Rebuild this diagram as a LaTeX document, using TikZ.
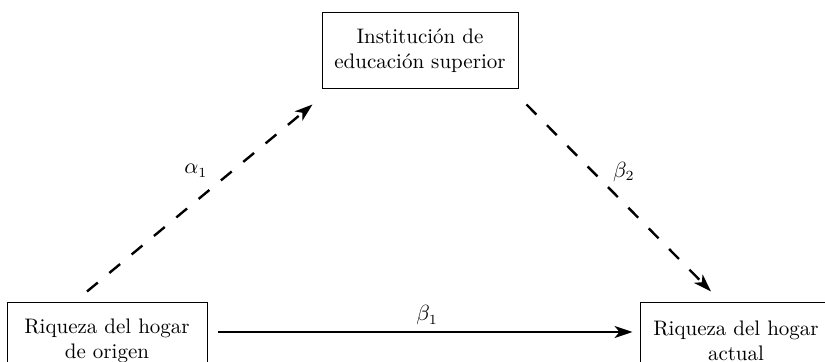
\documentclass[tikz,border=0pt]{standalone}
\usepackage{amsmath}
\usepackage{tikz}
\usetikzlibrary{arrows.meta}

\tikzset{
    caja/.style={draw, line width=0.5pt, align=center, minimum height=38pt, inner sep=2pt,
        font=\fontsize{10.5}{12.5}\selectfont},
    efecto/.style={->, line width=1.2pt, dash pattern=on 7pt off 7.5pt},
    directo/.style={->, line width=1pt},
    coef/.style={inner sep=0pt, font=\fontsize{10.5}{12.5}\selectfont},
}

\begin{document}
\begin{tikzpicture}[x=0.5pt, y=-0.5pt, >={Stealth[length=9pt,width=6pt,inset=2.5pt]}]

    \useasboundingbox (0,0) rectangle (825,362);

    % cajas
    \node[caja, minimum width=100pt] (origen) at (107,341) {Riqueza del hogar\\de origen};
    \node[caja, minimum width=98pt] (ies) at (420,51) {Institución de\\educación superior};
    \node[caja, minimum width=96pt] (actual) at (736,341) {Riqueza del hogar\\actual};

    % efectos indirectos
    \draw[efecto] ([xshift=-10pt, yshift=5.5pt]origen.north) -- ([xshift=-4.5pt, yshift=-7.5pt]ies.south west)
        node[coef, pos=0.645, left=12pt] {$\alpha_1$};
    \draw[efecto] ([xshift=4pt, yshift=-7.5pt]ies.south east) -- ([xshift=-12.5pt, yshift=5.5pt]actual.north)
        node[coef, pos=0.36, right=9.5pt] {$\beta_2$};

    % efecto directo
    \draw[directo] ([xshift=5pt, yshift=4.5pt]origen.east) -- ([xshift=-3.5pt, yshift=4.5pt]actual.west)
        node[coef, pos=0.505, above=3pt] {$\beta_1$};

\end{tikzpicture}
\end{document}
